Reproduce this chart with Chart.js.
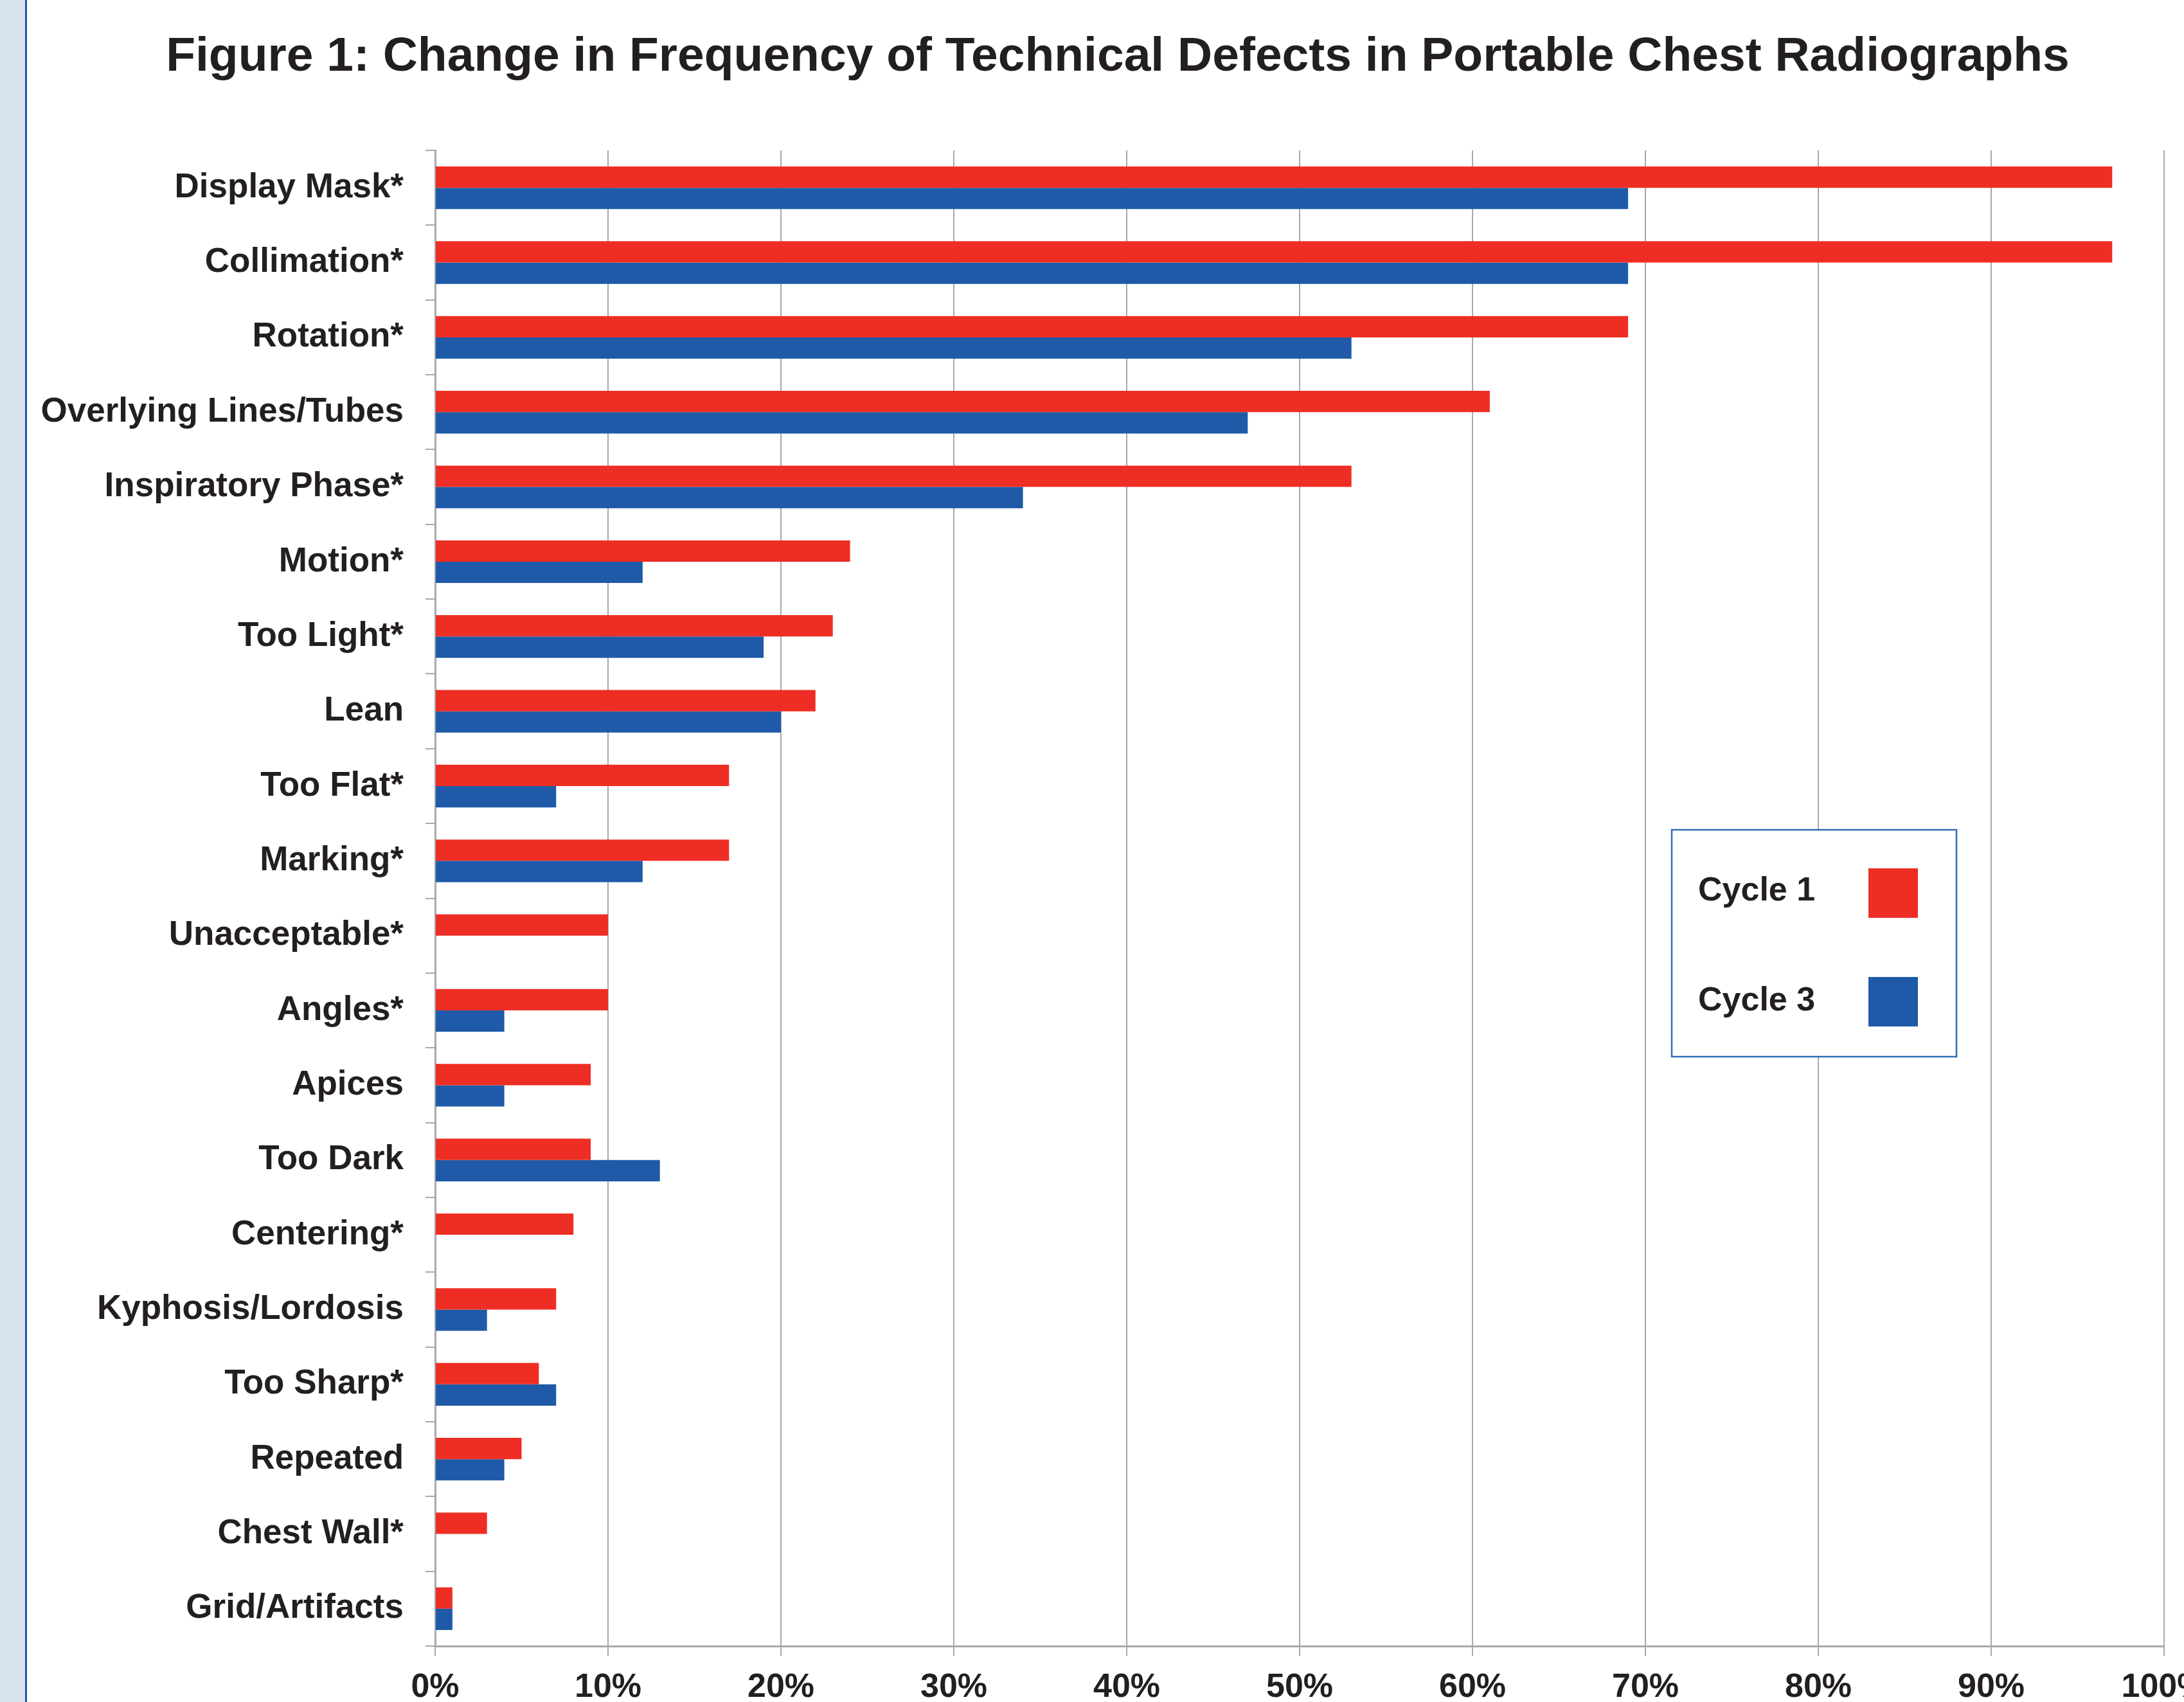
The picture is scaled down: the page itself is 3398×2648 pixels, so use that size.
<!DOCTYPE html>
<html>
<head>
<meta charset="utf-8">
<script src="https://cdn.jsdelivr.net/npm/chart.js@4.4.1/dist/chart.umd.min.js"></script>
<style>
    html, body { margin: 0; padding: 0; background: #fff; overflow: hidden; width: 3398px; height: 2648px; }
    #strip { position: absolute; left: 0; top: 0; width: 39px; height: 2648px; background: #d8e3ed; border-right: 3px solid #1f57a8; }
    #wrap { position: absolute; left: 42px; top: 0; width: 3394px; height: 2648px; }
</style>
</head>
<body>
<div id="strip"></div>
<div id="wrap"><canvas id="defects"></canvas></div>
<script>
// values (percent of radiographs)
let categories = ["Display Mask*", "Collimation*", "Rotation*", "Overlying Lines/Tubes", "Inspiratory Phase*",
    "Motion*", "Too Light*", "Lean", "Too Flat*", "Marking*", "Unacceptable*", "Angles*", "Apices",
    "Too Dark", "Centering*", "Kyphosis/Lordosis", "Too Sharp*", "Repeated", "Chest Wall*", "Grid/Artifacts"]
let cycle1 = [97, 97, 69, 61, 53, 24, 23, 22, 17, 17, 10, 10, 9, 9, 8, 7, 6, 5, 3, 1]
let cycle3 = [69, 69, 53, 47, 34, 12, 19, 20, 7, 12, 0, 4, 4, 13, 0, 3, 7, 4, 0, 1]
let xTicks = [0, 10, 20, 30, 40, 50, 60, 70, 80, 90, 100]

const font_family = "'Liberation Sans', Arial, Helvetica, sans-serif"
const ink = "#231f20"
const grid_grey = "#a7a9ac"

// legend box in the middle right, swatch to the right of the text
const boxLegend = {
    id: "boxLegend",
    afterDraw(chart) {
        let ctx = chart.ctx
        let x0 = 2601 - 42, y0 = 1291
        let baselines = [1401, 1572]
        let swatch_tops = [1351, 1520]
        ctx.save()
        ctx.fillStyle = "#fff"
        ctx.fillRect(x0, y0, 443, 353)
        ctx.strokeStyle = "#2f6db5"
        ctx.lineWidth = 2.5
        ctx.strokeRect(x0, y0, 443, 353)
        ctx.font = "bold 52px " + font_family
        ctx.textBaseline = "alphabetic"
        ctx.textAlign = "left"
        chart.data.datasets.forEach((ds, i) => {
            ctx.fillStyle = ink
            ctx.fillText(ds.label, x0 + 41, baselines[i])
            ctx.fillStyle = ds.backgroundColor
            ctx.fillRect(x0 + 306, swatch_tops[i], 77, 77)
        })
        ctx.restore()
    }
}

let ctx1 = document.getElementById("defects").getContext("2d")
new Chart(ctx1, {
    type: "bar",
    data: {
        labels: categories,
        datasets: [{
            label: "Cycle 1",
            data: cycle1,
            backgroundColor: "#ee2e24",
            categoryPercentage: 0.57,
            barPercentage: 1.0
        }, {
            label: "Cycle 3",
            data: cycle3,
            backgroundColor: "#1e5aa8",
            categoryPercentage: 0.57,
            barPercentage: 1.0
        }]
    },
    options: {
        indexAxis: "y",
        responsive: true,
        maintainAspectRatio: false,
        animation: false,
        layout: { padding: 0 },
        scales: {
            x: {
                min: 0,
                max: 100,
                afterBuildTicks: axis => { axis.ticks = xTicks.map(v => ({ value: v })) },
                // the last label runs off the page edge in the original
                afterFit: axis => { axis.height = 87; axis.paddingRight = 69 },
                grid: { color: grid_grey, lineWidth: 2, tickLength: 15, tickColor: grid_grey },
                border: { color: grid_grey, width: 3 },
                ticks: {
                    color: ink,
                    padding: 18,
                    font: { family: font_family, size: 52, weight: "bold" },
                    callback: v => v + "%",
                    maxRotation: 0
                }
            },
            y: {
                afterFit: axis => { axis.width = 635 },
                grid: { drawOnChartArea: false, tickLength: 15, tickColor: grid_grey, lineWidth: 2, offset: true },
                border: { color: grid_grey, width: 3 },
                ticks: {
                    color: ink,
                    padding: 34,
                    font: { family: font_family, size: 53, weight: "bold" },
                    autoSkip: false
                }
            }
        },
        plugins: {
            legend: { display: false },
            tooltip: { enabled: false },
            title: {
                display: true,
                text: "Figure 1: Change in Frequency of Technical Defects in Portable Chest Radiographs",
                color: ink,
                font: { family: font_family, size: 75, weight: "bold", lineHeight: 1.2 },
                padding: { top: 44, bottom: 100 }
            }
        }
    },
    plugins: [boxLegend]
});
</script>
</body>
</html>
